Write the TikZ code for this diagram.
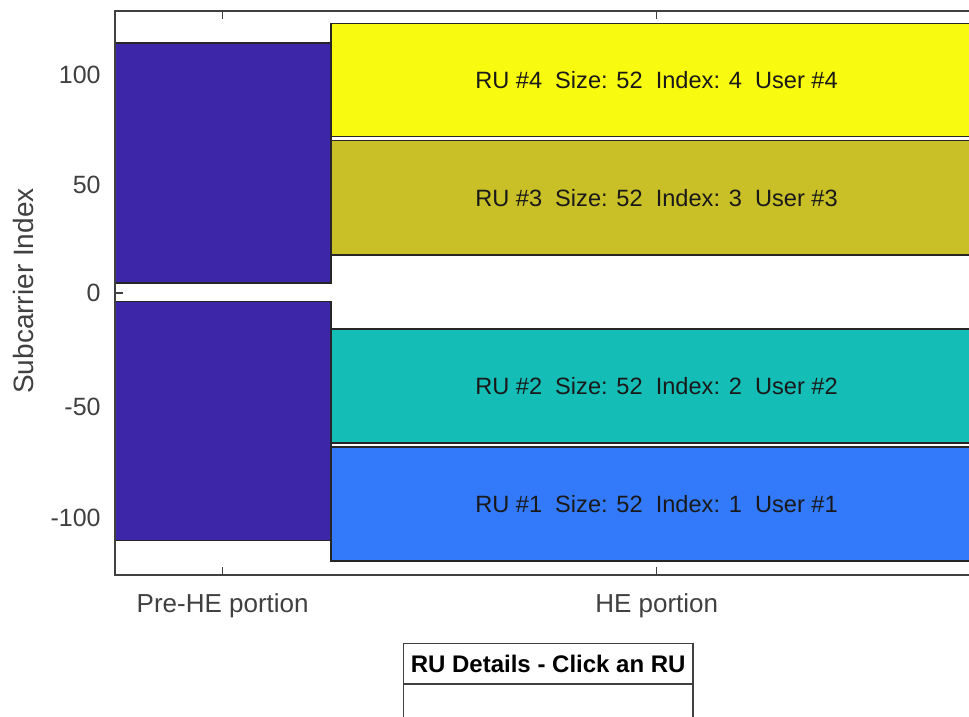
\documentclass[tikz,border=0pt]{standalone}
\usepackage{fontspec}
\setmainfont{Liberation Sans}
\usetikzlibrary{positioning}
\usepackage{xcolor}
\definecolor{preheblue}{HTML}{3E26A8}
\definecolor{ruone}{HTML}{337AFA}
\definecolor{rutwo}{HTML}{14BDB6}
\definecolor{ruthree}{HTML}{C9BF27}
\definecolor{rufour}{HTML}{F8FA0F}
\definecolor{axisgray}{HTML}{404040}

\begin{document}
\begin{tikzpicture}[x=0.5pt, y=-0.5pt,
  band/.style={draw=black!85, line width=0.6pt},
  axisline/.style={draw=axisgray, line width=0.6pt},
  rulabel/.style={font=\fontsize{11.8}{14}\selectfont, text=black!90, inner sep=0pt},
  ticklabel/.style={font=\fontsize{12.5}{15}\selectfont, text=axisgray, inner sep=0pt}]
  \useasboundingbox (0,0) rectangle (969,717);
  \clip (0,0) rectangle (969,717);

  % Pre-HE portion
  \fill[band, fill=preheblue] (115,43) rectangle (331,283);
  \fill[band, fill=preheblue] (115,301.7) rectangle (331,540.7);

  % HE portion: one band per RU
  \foreach \top/\bot/\col/\ru in {
    23.3/136.7/rufour/4,
    140.7/255/ruthree/3,
    329/443/rutwo/2,
    447/561/ruone/1} {
    \fill[band, fill=\col] (331,\top) rectangle (995,\bot);
    \node[rulabel] (ru\ru) at (656.5,{(\top+\bot)/2})
      {RU \#\ru~~Size: 52~~Index: \ru~~User \#\ru};
  }

  % Axes box and ticks
  \draw[axisline] (995,575) -- (115,575) -- (115,11) -- (995,11);
  \draw[axisline] (115,293) -- (123,293);
  \foreach \x in {222.7,656.7} {
    \draw[axisline] (\x,575) -- (\x,567);
    \draw[axisline] (\x,11) -- (\x,19);
  }

  % Tick labels
  \foreach \y/\val/\name in {75/100/a, 185/50/b, 293/0/c, 407/-50/d, 518/-100/e}
    \node[ticklabel, anchor=east] (ytick\name) at (101,\y) {\val};
  \node[ticklabel, font=\fontsize{13}{15}\selectfont] (prehe) at (222.7,606) {Pre-HE portion};
  \node[ticklabel, font=\fontsize{13}{15}\selectfont] (he) at (656.7,606) {HE portion};
  \node[ticklabel, font=\fontsize{14}{16}\selectfont, rotate=90] (ylabel) at (23,291) {Subcarrier Index};

  % RU details table
  \draw[axisline, fill=white] (403.6,730) -- (403.6,643.3) -- (692.9,643.3) -- (692.9,730);
  \draw[axisline] (403.6,684) -- (692.9,684);
  \node[font=\fontsize{12}{14}\selectfont\bfseries, inner sep=0pt] (details) at (548.2,664) {RU Details - Click an RU};
\end{tikzpicture}
\end{document}
